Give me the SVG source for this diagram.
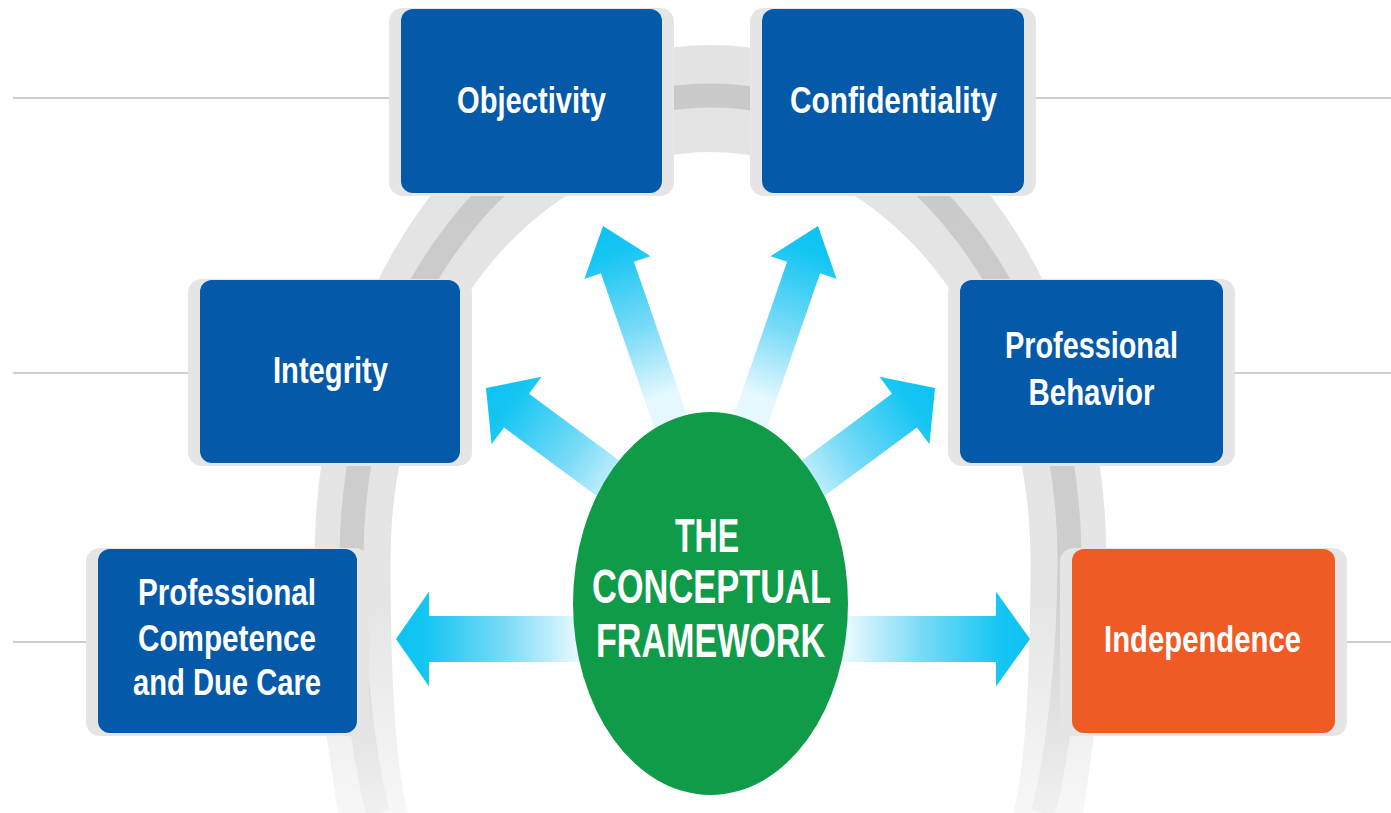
<svg xmlns="http://www.w3.org/2000/svg" width="1391" height="813" viewBox="0 0 1391 813">
  <defs>
    <linearGradient id="ringFill" gradientUnits="userSpaceOnUse" x1="0" y1="0" x2="0" y2="813">
      <stop offset="0" stop-color="#e3e3e3"/>
      <stop offset="0.74" stop-color="#e5e5e5"/>
      <stop offset="1" stop-color="#f7f7f7"/>
    </linearGradient>
    <linearGradient id="ringDark" gradientUnits="userSpaceOnUse" x1="0" y1="0" x2="0" y2="813">
      <stop offset="0" stop-color="#c8c8c8"/>
      <stop offset="0.72" stop-color="#cecece"/>
      <stop offset="1" stop-color="#f0f0f0"/>
    </linearGradient>
    <linearGradient id="arrowGrad" gradientUnits="userSpaceOnUse" x1="-180" y1="0" x2="0" y2="0">
      <stop offset="0" stop-color="#e4f8fe"/>
      <stop offset="0.4" stop-color="#78daf7"/>
      <stop offset="0.83" stop-color="#16c6f3"/>
      <stop offset="1" stop-color="#0bc2f2"/>
    </linearGradient>
  </defs>
  <style>
    .frame { fill: #e5e5e5; }
    .box { fill: #0459a9; }
    .box.orange { fill: #f05a24; }
    .lbl { font-family: "Liberation Sans", Arial, sans-serif; font-weight: bold; font-size: 37px; fill: #ffffff; text-anchor: middle; }
    .core { font-family: "Liberation Sans", Arial, sans-serif; font-weight: bold; font-size: 48px; fill: #ffffff; text-anchor: middle; }
    .rule { stroke: #bdbdbd; stroke-width: 1.5; fill: none; }
    .arrow { fill: url(#arrowGrad); }
  </style>

  <rect width="1391" height="813" fill="#ffffff"/>

  <g id="ring">
    <path fill="url(#ringFill)" fill-rule="evenodd" d="M338,813 C330,760 314.5,660 314.5,560 A396,515 0 0 1 1106.5,560 C1106.5,660 1091,760 1083,813 Z M408,813 C396,770 390.5,680 390.5,560 A320,408 0 0 1 1030.5,560 C1030.5,680 1025,770 1013,813 Z"/>
    <path fill="none" stroke="url(#ringDark)" stroke-width="24" d="M378,813 C364,760 351.5,660 351.5,560 A359,464.5 0 0 1 1069.5,560 C1069.5,660 1057,760 1043,813"/>
  </g>

  <g id="rules">
    <line class="rule" x1="13" y1="98" x2="401" y2="98"/>
    <line class="rule" x1="1024" y1="98" x2="1391" y2="98"/>
    <line class="rule" x1="13" y1="373" x2="200" y2="373"/>
    <line class="rule" x1="1223" y1="373" x2="1391" y2="373"/>
    <line class="rule" x1="13" y1="642" x2="98" y2="642"/>
    <line class="rule" x1="1335" y1="642" x2="1391" y2="642"/>
  </g>

  <g id="node-objectivity">
    <rect class="frame" x="389" y="8" width="285" height="188" rx="14"/>
    <rect class="box" x="401" y="9" width="261" height="184" rx="12"/>
    <text class="lbl" x="531.5" y="113" textLength="149" lengthAdjust="spacingAndGlyphs">Objectivity</text>
  </g>

  <g id="node-confidentiality">
    <rect class="frame" x="750" y="8" width="286" height="188" rx="14"/>
    <rect class="box" x="762" y="9" width="262" height="184" rx="12"/>
    <text class="lbl" x="893.5" y="113" textLength="207" lengthAdjust="spacingAndGlyphs">Confidentiality</text>
  </g>

  <g id="node-integrity">
    <rect class="frame" x="188" y="279" width="284" height="187" rx="14"/>
    <rect class="box" x="200" y="280" width="260" height="183" rx="12"/>
    <text class="lbl" x="330.5" y="383" textLength="115" lengthAdjust="spacingAndGlyphs">Integrity</text>
  </g>

  <g id="node-professional-behavior">
    <rect class="frame" x="948" y="279" width="287" height="187" rx="14"/>
    <rect class="box" x="960" y="280" width="263" height="183" rx="12"/>
    <text class="lbl" x="1091.5" y="358" textLength="173" lengthAdjust="spacingAndGlyphs">Professional</text>
    <text class="lbl" x="1091.5" y="405" textLength="126" lengthAdjust="spacingAndGlyphs">Behavior</text>
  </g>

  <g id="node-professional-competence">
    <rect class="frame" x="86" y="548" width="283" height="188" rx="14"/>
    <rect class="box" x="98" y="549" width="259" height="184" rx="12"/>
    <text class="lbl" x="227" y="605" textLength="178" lengthAdjust="spacingAndGlyphs">Professional</text>
    <text class="lbl" x="227" y="651" textLength="178" lengthAdjust="spacingAndGlyphs">Competence</text>
    <text class="lbl" x="227" y="695" textLength="188" lengthAdjust="spacingAndGlyphs">and Due Care</text>
  </g>

  <g id="node-independence">
    <rect class="frame" x="1060" y="548" width="287" height="188" rx="14"/>
    <rect class="box orange" x="1072" y="549" width="263" height="184" rx="12"/>
    <text class="lbl" x="1202.5" y="652" textLength="197" lengthAdjust="spacingAndGlyphs">Independence</text>
  </g>

  <g id="connectors">
    <path class="arrow" transform="translate(396,639) rotate(180)" d="M0,0 L-33,-47.5 L-33,-23 L-300,-23 L-300,23 L-33,23 L-33,47.5 Z"/>
    <path class="arrow" transform="translate(1030,639)" d="M0,0 L-34,-47.5 L-34,-23 L-300,-23 L-300,23 L-34,23 L-34,47.5 Z"/>
    <path class="arrow" transform="translate(486,388) rotate(216.5)" d="M0,0 L-38,-42 L-38,-21 L-190,-21 L-190,21 L-38,21 L-38,42 Z"/>
    <path class="arrow" transform="translate(935,388) rotate(-36.5)" d="M0,0 L-38,-42 L-38,-21 L-190,-21 L-190,21 L-38,21 L-38,42 Z"/>
    <path class="arrow" transform="translate(603,226) rotate(250.9)" d="M0,0 L-44,-35 L-44,-17.5 L-230,-17.5 L-230,17.5 L-44,17.5 L-44,35 Z"/>
    <path class="arrow" transform="translate(818,226) rotate(-70.9)" d="M0,0 L-44,-35 L-44,-17.5 L-230,-17.5 L-230,17.5 L-44,17.5 L-44,35 Z"/>
  </g>

  <g id="node-conceptual-framework">
    <ellipse cx="710.5" cy="603.5" rx="137.5" ry="191.5" fill="#0f9b48"/>
    <text class="core" x="707" y="552" textLength="64" lengthAdjust="spacingAndGlyphs">THE</text>
    <text class="core" x="711.5" y="603" textLength="239" lengthAdjust="spacingAndGlyphs">CONCEPTUAL</text>
    <text class="core" x="710.5" y="657" textLength="229" lengthAdjust="spacingAndGlyphs">FRAMEWORK</text>
  </g>
</svg>
